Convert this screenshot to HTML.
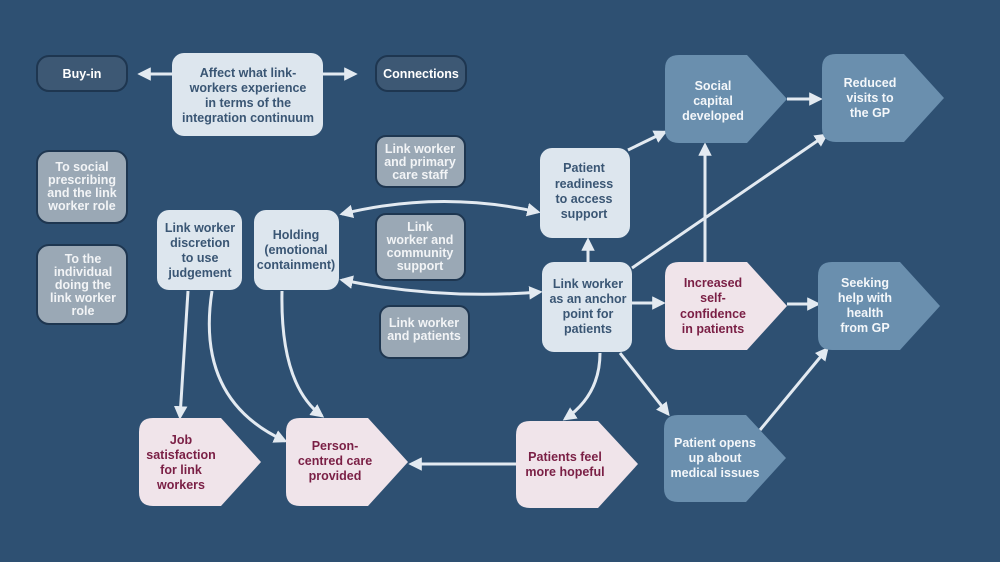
<!DOCTYPE html>
<html><head><meta charset="utf-8"><style>
html,body{margin:0;padding:0;background:#2e5072;}
svg{display:block}
text{font-family:"Liberation Sans",sans-serif;font-weight:bold;font-size:12.5px;text-anchor:middle}
.d{fill:#3a5674}.w{fill:#ffffff}.p{fill:#7a1f45}.g{fill:#f2f4f6}
</style></head><body>
<svg width="1000" height="562" viewBox="0 0 1000 562" xmlns="http://www.w3.org/2000/svg">
<defs>
<marker id="a" viewBox="0 0 10 10" refX="8" refY="5" markerWidth="4.5" markerHeight="4.5" orient="auto-start-reverse" markerUnits="strokeWidth"><path d="M0,0 L10,5 L0,10 z" fill="#e3eaf1"/></marker>
</defs>
<rect width="1000" height="562" fill="#2e5072"/>
<!-- connectors -->
<g stroke="#e3eaf1" stroke-width="3" fill="none">
<line x1="172" y1="74" x2="140" y2="74" marker-end="url(#a)"/>
<line x1="323" y1="74" x2="355" y2="74" marker-end="url(#a)"/>
<path d="M342,214 Q440,190 538,212" marker-start="url(#a)" marker-end="url(#a)"/>
<path d="M342,280 Q440,300 540,292" marker-start="url(#a)" marker-end="url(#a)"/>
<line x1="588" y1="262" x2="588" y2="240" marker-end="url(#a)"/>
<line x1="628" y1="150" x2="665" y2="132" marker-end="url(#a)"/>
<line x1="787" y1="99" x2="820" y2="99" marker-end="url(#a)"/>
<line x1="632" y1="268" x2="826" y2="135" marker-end="url(#a)"/>
<line x1="705" y1="262" x2="705" y2="145" marker-end="url(#a)"/>
<line x1="632" y1="303" x2="663" y2="303" marker-end="url(#a)"/>
<line x1="787" y1="304" x2="818" y2="304" marker-end="url(#a)"/>
<line x1="760" y1="430" x2="827" y2="349" marker-end="url(#a)"/>
<line x1="620" y1="353" x2="668" y2="414" marker-end="url(#a)"/>
<path d="M600,353 Q600,395 565,419" marker-end="url(#a)"/>
<line x1="516" y1="464" x2="411" y2="464" marker-end="url(#a)"/>
<line x1="188" y1="291" x2="180" y2="417" marker-end="url(#a)"/>
<path d="M212,291 Q195,400 285,441" marker-end="url(#a)"/>
<path d="M282,291 Q280,385 322,416" marker-end="url(#a)"/>
</g>
<!-- dark boxes -->
<g fill="#3d5874" stroke="#1e3650" stroke-width="2">
<rect x="37" y="56" width="90" height="35" rx="12"/>
<rect x="376" y="56" width="90" height="35" rx="12"/>
</g>
<text x="82" y="78" class="w" fill="#fff">Buy-in</text>
<text x="421" y="78" class="w" fill="#fff">Connections</text>
<!-- gray boxes -->
<g fill="#9aa8b5" stroke="#1e3650" stroke-width="2">
<rect x="37" y="151" width="90" height="72" rx="12"/>
<rect x="37" y="245" width="90" height="79" rx="12"/>
<rect x="376" y="136" width="89" height="51" rx="10"/>
<rect x="376" y="214" width="89" height="66" rx="10"/>
<rect x="380" y="306" width="89" height="52" rx="10"/>
</g>
<g class="g" fill="#f2f4f6">
<text x="82" y="171">To social</text><text x="82" y="184">prescribing</text><text x="82" y="197">and the link</text><text x="82" y="210">worker role</text>
<text x="83" y="263">To the</text><text x="83" y="276">individual</text><text x="83" y="289">doing the</text><text x="83" y="302">link worker</text><text x="83" y="315">role</text>
<text x="420" y="153">Link worker</text><text x="420" y="166">and primary</text><text x="420" y="179">care staff</text>
<text x="420" y="231">Link</text><text x="420" y="244">worker and</text><text x="420" y="257">community</text><text x="420" y="270">support</text>
<text x="424" y="327">Link worker</text><text x="424" y="340">and patients</text>
</g>
<!-- light boxes -->
<g fill="#dde6ee">
<rect x="172" y="53" width="151" height="83" rx="12"/>
<rect x="157" y="210" width="85" height="80" rx="12"/>
<rect x="254" y="210" width="85" height="80" rx="12"/>
<rect x="540" y="148" width="90" height="90" rx="12"/>
<rect x="542" y="262" width="90" height="90" rx="12"/>
</g>
<g class="d" fill="#3a5674">
<text x="248" y="77">Affect what link-</text><text x="248" y="92">workers experience</text><text x="248" y="107">in terms of the</text><text x="248" y="122">integration continuum</text>
<text x="200" y="232">Link worker</text><text x="200" y="247">discretion</text><text x="200" y="262">to use</text><text x="200" y="277">judgement</text>
<text x="296" y="239">Holding</text><text x="296" y="254">(emotional</text><text x="296" y="269">containment)</text>
<text x="584" y="172">Patient</text><text x="584" y="188">readiness</text><text x="584" y="203">to access</text><text x="584" y="218">support</text>
<text x="588" y="288">Link worker</text><text x="588" y="303">as an anchor</text><text x="588" y="318">point for</text><text x="588" y="333">patients</text>
</g>
<!-- pentagons -->
<g fill="#6a8fae">
<path d="M679,55 H747 L787,99 L747,143 H679 Q665,143 665,129 V69 Q665,55 679,55Z"/>
<path d="M836,54 H904 L944,98 L904,142 H836 Q822,142 822,128 V68 Q822,54 836,54Z"/>
<path d="M832,262 H900 L940,306 L900,350 H832 Q818,350 818,336 V276 Q818,262 832,262Z"/>
<path d="M678,415 H746 L786,458 L746,502 H678 Q664,502 664,488 V429 Q664,415 678,415Z"/>
</g>
<g fill="#f0e4ea">
<path d="M679,262 H747 L787,306 L747,350 H679 Q665,350 665,336 V276 Q665,262 679,262Z"/>
<path d="M153,418 H221 L261,462 L221,506 H153 Q139,506 139,492 V432 Q139,418 153,418Z"/>
<path d="M300,418 H368 L408,462 L368,506 H300 Q286,506 286,492 V432 Q286,418 300,418Z"/>
<path d="M530,421 H598 L638,464 L598,508 H530 Q516,508 516,494 V435 Q516,421 530,421Z"/>
</g>
<g fill="#f4f7fa">
<text x="713" y="90">Social</text><text x="713" y="105">capital</text><text x="713" y="120">developed</text>
<text x="870" y="87">Reduced</text><text x="870" y="102">visits to</text><text x="870" y="117">the GP</text>
<text x="865" y="287">Seeking</text><text x="865" y="302">help with</text><text x="865" y="317">health</text><text x="865" y="332">from GP</text>
<text x="715" y="447">Patient opens</text><text x="715" y="462">up about</text><text x="715" y="477">medical issues</text>
</g>
<g class="p" fill="#7a1f45">
<text x="713" y="287">Increased</text><text x="713" y="302">self-</text><text x="713" y="318">confidence</text><text x="713" y="333">in patients</text>
<text x="181" y="444">Job</text><text x="181" y="459">satisfaction</text><text x="181" y="474">for link</text><text x="181" y="489">workers</text>
<text x="335" y="450">Person-</text><text x="335" y="465">centred care</text><text x="335" y="480">provided</text>
<text x="565" y="461">Patients feel</text><text x="565" y="476">more hopeful</text>
</g>
</svg>
</body></html>
